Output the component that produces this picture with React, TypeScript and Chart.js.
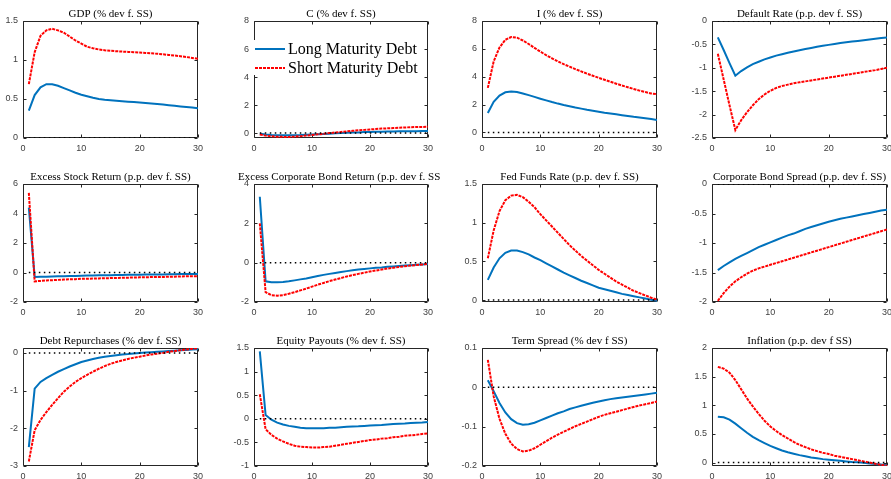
import React, { useEffect, useRef } from "react";
import { Chart, registerables } from "chart.js";
Chart.register(...registerables);

// ---------- data ----------
const periods = [1, 2, 3, 4, 5, 6, 7, 8, 9, 10, 11, 12, 13, 14, 15, 16, 17, 18, 19, 20, 21, 22, 23, 24, 25, 26, 27, 28, 29, 30];
const xTicks = [0, 10, 20, 30];
const zeroLine = [0, 0, 0, 0, 0, 0, 0, 0, 0, 0, 0, 0, 0, 0, 0, 0, 0, 0, 0, 0, 0, 0, 0, 0, 0, 0, 0, 0, 0, 0];

const seriesNames = ["Long Maturity Debt", "Short Maturity Debt"];

const gdpLong = [0.35, 0.55, 0.65, 0.69, 0.69, 0.67, 0.64, 0.61, 0.58, 0.555, 0.535, 0.515, 0.5, 0.49, 0.485, 0.478, 0.472, 0.466, 0.46, 0.455, 0.448, 0.442, 0.435, 0.428, 0.42, 0.412, 0.405, 0.397, 0.39, 0.38];
const gdpShort = [0.69, 1.1, 1.31, 1.38, 1.4, 1.38, 1.35, 1.3, 1.25, 1.21, 1.17, 1.15, 1.135, 1.125, 1.118, 1.112, 1.108, 1.104, 1.1, 1.095, 1.09, 1.085, 1.08, 1.073, 1.065, 1.057, 1.048, 1.038, 1.027, 1.015];

const cLong = [-0.05, -0.1, -0.13, -0.15, -0.16, -0.16, -0.15, -0.14, -0.12, -0.1, -0.08, -0.06, -0.04, -0.02, 0, 0.02, 0.04, 0.05, 0.07, 0.08, 0.09, 0.1, 0.11, 0.12, 0.13, 0.13, 0.14, 0.14, 0.15, 0.15];
const cShort = [-0.1, -0.18, -0.23, -0.26, -0.27, -0.27, -0.25, -0.22, -0.18, -0.14, -0.09, -0.05, 0, 0.04, 0.08, 0.12, 0.16, 0.2, 0.23, 0.26, 0.29, 0.32, 0.34, 0.36, 0.38, 0.4, 0.42, 0.43, 0.44, 0.45];

const invLong = [1.4, 2.2, 2.65, 2.88, 2.93, 2.9, 2.8, 2.68, 2.55, 2.42, 2.3, 2.18, 2.07, 1.97, 1.88, 1.79, 1.71, 1.63, 1.56, 1.49, 1.42, 1.36, 1.3, 1.24, 1.18, 1.12, 1.07, 1.02, 0.97, 0.9];
const invShort = [3.2, 5.1, 6.1, 6.65, 6.85, 6.8, 6.6, 6.35, 6.07, 5.8, 5.55, 5.32, 5.1, 4.9, 4.72, 4.55, 4.38, 4.22, 4.07, 3.92, 3.78, 3.64, 3.5, 3.37, 3.24, 3.12, 3.0, 2.9, 2.8, 2.75];

const defLong = [-0.35, -0.62, -0.9, -1.17, -1.07, -0.99, -0.92, -0.87, -0.82, -0.78, -0.74, -0.71, -0.68, -0.65, -0.625, -0.6, -0.575, -0.55, -0.53, -0.51, -0.49, -0.47, -0.455, -0.44, -0.425, -0.41, -0.395, -0.38, -0.365, -0.35];
const defShort = [-0.7, -1.25, -1.8, -2.33, -2.12, -1.95, -1.8, -1.67, -1.57, -1.49, -1.43, -1.39, -1.36, -1.33, -1.31, -1.29, -1.27, -1.25, -1.23, -1.21, -1.19, -1.17, -1.15, -1.13, -1.11, -1.09, -1.07, -1.05, -1.025, -1.0];

const stockLong = [4.4, -0.3, -0.29, -0.28, -0.27, -0.26, -0.25, -0.24, -0.23, -0.22, -0.21, -0.2, -0.19, -0.19, -0.18, -0.17, -0.17, -0.16, -0.15, -0.15, -0.14, -0.14, -0.13, -0.13, -0.12, -0.12, -0.11, -0.11, -0.1, -0.1];
const stockShort = [5.4, -0.6, -0.57, -0.54, -0.52, -0.5, -0.48, -0.46, -0.45, -0.43, -0.42, -0.41, -0.4, -0.39, -0.38, -0.37, -0.36, -0.35, -0.34, -0.33, -0.32, -0.31, -0.3, -0.3, -0.29, -0.28, -0.27, -0.26, -0.25, -0.25];

const bondLong = [3.35, -0.95, -1.0, -1.0, -0.98, -0.95, -0.9, -0.85, -0.8, -0.74, -0.68, -0.62, -0.57, -0.52, -0.47, -0.43, -0.39, -0.35, -0.32, -0.29, -0.26, -0.24, -0.21, -0.19, -0.17, -0.15, -0.13, -0.11, -0.09, -0.07];
const bondShort = [2.0, -1.5, -1.65, -1.68, -1.65, -1.58, -1.5, -1.41, -1.32, -1.22, -1.12, -1.03, -0.94, -0.86, -0.78, -0.7, -0.63, -0.57, -0.51, -0.45, -0.4, -0.35, -0.3, -0.26, -0.22, -0.18, -0.15, -0.12, -0.09, -0.07];

const ffrLong = [0.26, 0.42, 0.54, 0.61, 0.64, 0.64, 0.62, 0.59, 0.55, 0.515, 0.475, 0.435, 0.395, 0.355, 0.32, 0.285, 0.25, 0.22, 0.19, 0.16, 0.14, 0.12, 0.1, 0.08, 0.065, 0.05, 0.035, 0.02, 0.005, -0.01];
const ffrShort = [0.54, 0.9, 1.15, 1.29, 1.35, 1.36, 1.33, 1.27, 1.2, 1.11, 1.03, 0.95, 0.87, 0.79, 0.71, 0.64, 0.57, 0.51, 0.45, 0.39, 0.34, 0.29, 0.24, 0.2, 0.16, 0.12, 0.09, 0.06, 0.03, 0.005];

const sprLong = [-1.46, -1.39, -1.33, -1.27, -1.22, -1.17, -1.12, -1.07, -1.03, -0.99, -0.95, -0.91, -0.87, -0.84, -0.8, -0.76, -0.73, -0.7, -0.67, -0.64, -0.615, -0.59, -0.57, -0.55, -0.53, -0.51, -0.49, -0.47, -0.45, -0.435];
const sprShort = [-1.98, -1.85, -1.74, -1.65, -1.58, -1.52, -1.47, -1.43, -1.4, -1.37, -1.34, -1.31, -1.28, -1.25, -1.22, -1.19, -1.16, -1.13, -1.1, -1.07, -1.04, -1.01, -0.98, -0.95, -0.92, -0.89, -0.86, -0.83, -0.8, -0.77];

const debtLong = [-2.5, -0.95, -0.77, -0.67, -0.58, -0.5, -0.43, -0.36, -0.3, -0.24, -0.2, -0.16, -0.13, -0.1, -0.08, -0.06, -0.04, -0.03, -0.015, 0, 0.01, 0.02, 0.03, 0.04, 0.05, 0.06, 0.07, 0.08, 0.09, 0.1];
const debtShort = [-2.88, -2.05, -1.78, -1.57, -1.38, -1.2, -1.03, -0.89, -0.77, -0.67, -0.58, -0.5, -0.42, -0.35, -0.29, -0.24, -0.2, -0.16, -0.13, -0.1, -0.07, -0.04, -0.02, 0.0, 0.03, 0.05, 0.07, 0.09, 0.11, 0.13];

const eqLong = [1.43, 0.08, -0.02, -0.08, -0.12, -0.15, -0.17, -0.19, -0.2, -0.2, -0.2, -0.2, -0.19, -0.19, -0.18, -0.17, -0.165, -0.16, -0.15, -0.14, -0.135, -0.13, -0.12, -0.11, -0.105, -0.1, -0.09, -0.085, -0.08, -0.07];
const eqShort = [0.52, -0.22, -0.34, -0.42, -0.48, -0.53, -0.57, -0.59, -0.6, -0.61, -0.61, -0.6, -0.59, -0.57, -0.55, -0.53, -0.51, -0.49, -0.47, -0.45, -0.44, -0.42, -0.41, -0.39, -0.38, -0.36, -0.35, -0.34, -0.32, -0.31];

const termLong = [0.018, -0.01, -0.04, -0.064, -0.081, -0.091, -0.095, -0.094, -0.09, -0.084, -0.078, -0.072, -0.066, -0.061, -0.055, -0.051, -0.047, -0.043, -0.039, -0.036, -0.033, -0.03, -0.028, -0.026, -0.024, -0.022, -0.02, -0.018, -0.016, -0.014];
const termShort = [0.07, -0.023, -0.08, -0.118, -0.143, -0.157, -0.163, -0.161, -0.155, -0.146, -0.137, -0.128, -0.12, -0.113, -0.106, -0.099, -0.093, -0.087, -0.081, -0.075, -0.07, -0.066, -0.062, -0.058, -0.054, -0.05, -0.046, -0.043, -0.04, -0.036];

const inflLong = [0.8, 0.79, 0.75, 0.68, 0.6, 0.52, 0.45, 0.39, 0.34, 0.29, 0.25, 0.21, 0.18, 0.155, 0.13, 0.11, 0.09, 0.075, 0.06, 0.05, 0.04, 0.03, 0.02, 0.01, 0.005, -0.005, -0.015, -0.025, -0.035, -0.045];
const inflShort = [1.67, 1.64, 1.57, 1.44, 1.28, 1.12, 0.98, 0.85, 0.73, 0.63, 0.55, 0.48, 0.42, 0.36, 0.31, 0.27, 0.23, 0.2, 0.17, 0.15, 0.12, 0.1, 0.08, 0.06, 0.04, 0.02, 0.0, -0.02, -0.04, -0.055];

// y ticks (labels) per panel
const gdpTicks = [0, 0.5, 1, 1.5];
const cTicks = [0, 2, 4, 6, 8];
const invTicks = [0, 2, 4, 6, 8];
const defTicks = [-2.5, -2, -1.5, -1, -0.5, 0];
const stockTicks = [-2, 0, 2, 4, 6];
const bondTicks = [-2, 0, 2, 4];
const ffrTicks = [0, 0.5, 1, 1.5];
const sprTicks = [-2, -1.5, -1, -0.5, 0];
const debtTicks = [-3, -2, -1, 0];
const eqTicks = [-1, -0.5, 0, 0.5, 1, 1.5];
const termTicks = [-0.2, -0.1, 0, 0.1];
const inflTicks = [0, 0.5, 1, 1.5, 2];

// y limits per panel
const gdpRange = [0, 1.5];
const cRange = [-0.35, 8];
const invRange = [-0.4, 8];
const defRange = [-2.5, 0];
const stockRange = [-2, 6];
const bondRange = [-2, 4];
const ffrRange = [-0.025, 1.5];
const sprRange = [-2, 0];
const debtRange = [-3, 0.13];
const eqRange = [-1, 1.5];
const termRange = [-0.2, 0.1];
const inflRange = [-0.06, 2];

const titles = [
  "GDP (% dev f. SS)",
  "C (% dev f. SS)",
  "I (% dev f. SS)",
  "Default Rate (p.p. dev f. SS)",
  "Excess Stock Return (p.p. dev f. SS)",
  "Excess Corporate Bond Return (p.p. dev f. SS)",
  "Fed Funds Rate (p.p. dev f. SS)",
  "Corporate Bond Spread (p.p. dev f. SS)",
  "Debt Repurchases (% dev f. SS)",
  "Equity Payouts (% dev f. SS)",
  "Term Spread (% dev f SS)",
  "Inflation (p.p. dev f SS)",
];

const panelLong = [gdpLong, cLong, invLong, defLong, stockLong, bondLong, ffrLong, sprLong, debtLong, eqLong, termLong, inflLong];
const panelShort = [gdpShort, cShort, invShort, defShort, stockShort, bondShort, ffrShort, sprShort, debtShort, eqShort, termShort, inflShort];
const panelTicks = [gdpTicks, cTicks, invTicks, defTicks, stockTicks, bondTicks, ffrTicks, sprTicks, debtTicks, eqTicks, termTicks, inflTicks];
const panelRange = [gdpRange, cRange, invRange, defRange, stockRange, bondRange, ffrRange, sprRange, debtRange, eqRange, termRange, inflRange];

// ---------- layout ----------
const colLeft = [23, 254, 482, 712];
const colRight = [198, 428, 657, 887];
const rowTop = [21, 184, 348];
const rowBottom = [138, 302, 466];
const AXIS_W = 30;
const PAD_R = 12;
const PAD_T = 20;
const AXIS_H = 16;

const BLUE = "#0072BD";
const RED = "#FF0000";
const FRAME = "#262626";

const framePlugin = {
  id: "frame",
  beforeDatasetsDraw(chart: any) {
    const { ctx, chartArea: a } = chart;
    const xs = chart.scales.x;
    const ys = chart.scales.y;
    const l = Math.round(a.left) + 0.5;
    const r = Math.round(a.right) - 0.5;
    const t = Math.round(a.top) + 0.5;
    const b = Math.round(a.bottom) - 0.5;
    ctx.save();
    ctx.strokeStyle = FRAME;
    ctx.lineWidth = 1;
    ctx.beginPath();
    ctx.rect(l, t, r - l, b - t);
    const tl = 3;
    xTicks.forEach((v) => {
      const p = Math.round(xs.getPixelForValue(v)) + 0.5;
      ctx.moveTo(p, b);
      ctx.lineTo(p, b - tl);
      ctx.moveTo(p, t);
      ctx.lineTo(p, t + tl);
    });
    (chart.options.plugins.frame.yTicks as number[]).forEach((v) => {
      const p = Math.round(ys.getPixelForValue(v)) + 0.5;
      ctx.moveTo(l, p);
      ctx.lineTo(l + tl, p);
      ctx.moveTo(r, p);
      ctx.lineTo(r - tl, p);
    });
    ctx.stroke();
    ctx.restore();
  },
  afterDraw(chart: any, _args: any, opts: any) {
    const { ctx, chartArea: a } = chart;
    ctx.save();
    ctx.fillStyle = "#000";
    ctx.font = '11px "Liberation Serif"';
    ctx.textAlign = "center";
    ctx.textBaseline = "alphabetic";
    ctx.fillText(opts.title, (a.left + a.right) / 2, a.top - 4);
    if (opts.legend) {
      ctx.fillStyle = "#fff";
      ctx.fillRect(a.left - 4, a.top + 19, 170, 35);
      const y1 = a.top + 28;
      const y2 = a.top + 47;
      ctx.lineWidth = 2;
      ctx.strokeStyle = BLUE;
      ctx.beginPath();
      ctx.moveTo(a.left + 1, y1);
      ctx.lineTo(a.left + 31, y1);
      ctx.stroke();
      ctx.strokeStyle = RED;
      ctx.setLineDash([3, 1]);
      ctx.beginPath();
      ctx.moveTo(a.left + 1, y2);
      ctx.lineTo(a.left + 31, y2);
      ctx.stroke();
      ctx.setLineDash([]);
      ctx.fillStyle = "#000";
      ctx.font = '16px "Liberation Serif"';
      ctx.textAlign = "left";
      ctx.textBaseline = "middle";
      ctx.fillText(seriesNames[0], a.left + 34, y1 + 1);
      ctx.fillText(seriesNames[1], a.left + 34, y2 + 1);
    }
    ctx.restore();
  },
};

function fmt(v: number) {
  return String(v);
}

function Panel({ index }: { index: number }) {
  const ref = useRef<HTMLCanvasElement>(null);
  const row = Math.floor(index / 4);
  const col = index % 4;
  const L = colLeft[col];
  const R = colRight[col];
  const T = rowTop[row];
  const B = rowBottom[row];
  const W = R - L + AXIS_W + PAD_R;
  const H = B - T + PAD_T + AXIS_H;

  useEffect(() => {
    if (!ref.current) return;
    const yt = panelTicks[index];
    const yr = panelRange[index];
    const chart = new Chart(ref.current, {
      type: "line",
      data: {
        labels: periods,
        datasets: [
          {
            data: periods.map((x, i) => ({ x, y: zeroLine[i] })),
            borderColor: "#000",
            borderWidth: 1.5,
            borderDash: [1.5, 3.5],
            pointRadius: 0,
            fill: false,
          },
          {
            label: seriesNames[1],
            data: periods.map((x, i) => ({ x, y: panelShort[index][i] })),
            borderColor: RED,
            borderWidth: 2,
            borderDash: [3, 1],
            pointRadius: 0,
            fill: false,
          },
          {
            label: seriesNames[0],
            data: periods.map((x, i) => ({ x, y: panelLong[index][i] })),
            borderColor: BLUE,
            borderWidth: 2,
            pointRadius: 0,
            fill: false,
          },
        ],
      },
      options: {
        animation: false,
        responsive: false,
        devicePixelRatio: 1,
        events: [],
        layout: { padding: { left: 0, right: PAD_R, top: PAD_T, bottom: 0 } },
        scales: {
          x: {
            type: "linear",
            min: 0,
            max: 30,
            afterBuildTicks: (s: any) => {
              s.ticks = xTicks.map((v) => ({ value: v }));
            },
            afterFit: (s: any) => {
              s.height = AXIS_H;
            },
            grid: { display: false, drawTicks: false },
            border: { display: false },
            ticks: {
              padding: 5,
              maxRotation: 0,
              autoSkip: false,
              color: "#404040",
              font: { family: '"Liberation Sans", Arial, sans-serif', size: 9 },
              callback: (v: any) => fmt(v),
            },
          },
          y: {
            type: "linear",
            min: yr[0],
            max: yr[1],
            afterBuildTicks: (s: any) => {
              s.ticks = yt.map((v) => ({ value: v }));
            },
            afterFit: (s: any) => {
              s.width = AXIS_W;
            },
            grid: { display: false, drawTicks: false },
            border: { display: false },
            ticks: {
              padding: 5,
              autoSkip: false,
              color: "#404040",
              font: { family: '"Liberation Sans", Arial, sans-serif', size: 9 },
              callback: (v: any) => fmt(v),
            },
          },
        },
        plugins: {
          legend: { display: false },
          tooltip: { enabled: false },
          title: { display: false },
          frame: { title: titles[index], legend: index === 1, yTicks: yt },
        } as any,
      },
      plugins: [framePlugin as any],
    } as any);
    return () => chart.destroy();
  }, [index]);

  return (
    <canvas
      ref={ref}
      width={W}
      height={H}
      style={{ position: "absolute", left: L - AXIS_W, top: T - PAD_T, width: W, height: H }}
    />
  );
}

export default function App() {
  return (
    <div style={{ position: "fixed", left: 0, top: 0, width: 891, height: 479, background: "#fff" }}>
      {titles.map((_, i) => (
        <Panel key={i} index={i} />
      ))}
    </div>
  );
}
